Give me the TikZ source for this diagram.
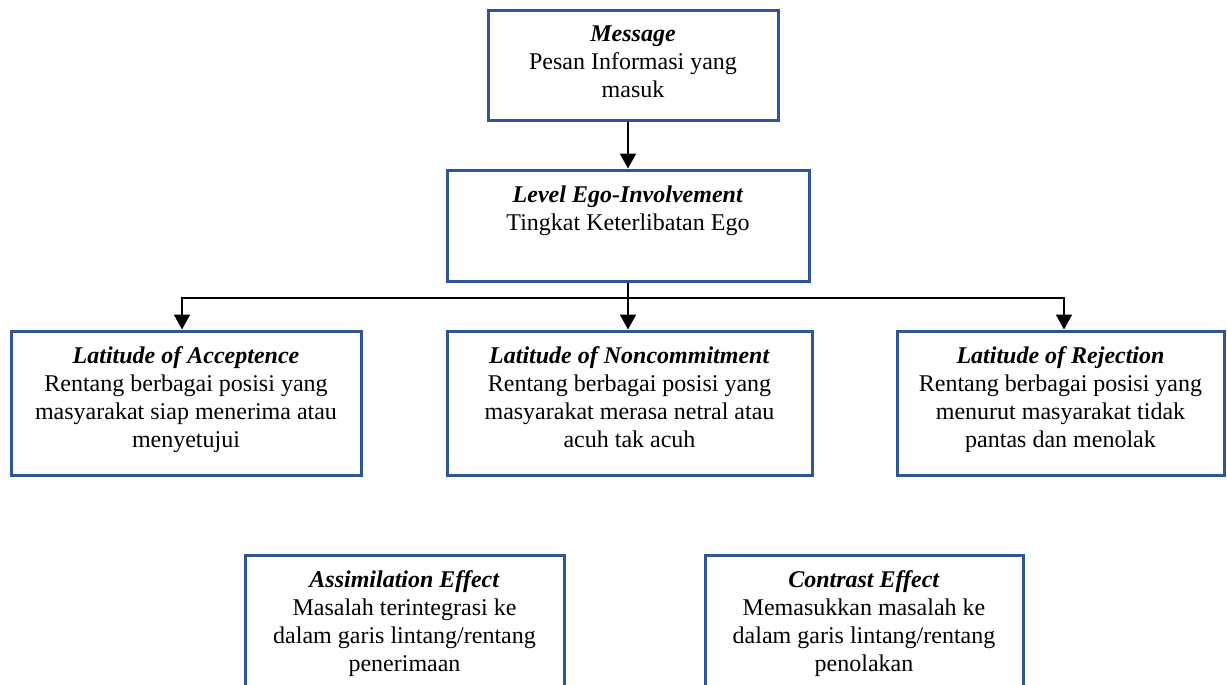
\documentclass[tikz,border=0pt]{standalone}
\usepackage{fontspec}
\setmainfont{Liberation Serif}
\usetikzlibrary{positioning,arrows.meta}
\definecolor{boxblue}{RGB}{47,85,151}
\begin{document}
\begin{tikzpicture}
        [x=0.5pt, y=-0.5pt,
        box/.style={rectangle, draw=boxblue, line width=1.5pt, fill=white},
        txt/.style={align=center, inner sep=0pt, font=\fontsize{12}{14}\selectfont},
        arr/.style={line width=1pt, -{Triangle[width=8pt,length=7.5pt]}}]
        \clip (0,0) rectangle (1227,685);
        \fill[white] (0,0) rectangle (1227,685);

        \node[box, minimum width=145pt, minimum height=55pt] (msg) at (633,65) {};
        \node[box, minimum width=181pt, minimum height=55.5pt] (lvl) at (628,225.5) {};
        \node[box, minimum width=175pt, minimum height=72pt] (lacc) at (186,403) {};
        \node[box, minimum width=182.5pt, minimum height=72pt] (lnon) at (629.5,403) {};
        \node[box, minimum width=163.5pt, minimum height=72pt] (lrej) at (1060.5,403) {};
        \node[box, minimum width=159.5pt, minimum height=75pt] (asm) at (404.5,630) {};
        \node[box, minimum width=159pt, minimum height=75pt] (con) at (864,630) {};

        \node[txt, below=8.5pt of msg.north] (msgtxt) {\textbf{\textit{Message}}\\Pesan Informasi yang\\masuk};
        \node[txt, below=8.5pt of lvl.north] (lvltxt) {\textbf{\textit{Level Ego-Involvement}}\\Tingkat Keterlibatan Ego};
        \node[txt, below=8.5pt of lacc.north] (lacctxt) {\textbf{\textit{Latitude of Acceptence}}\\Rentang berbagai posisi yang\\masyarakat siap menerima atau\\menyetujui};
        \node[txt, below=8.5pt of lnon.north] (lnontxt) {\textbf{\textit{Latitude of Noncommitment}}\\Rentang berbagai posisi yang\\masyarakat merasa netral atau\\acuh tak acuh};
        \node[txt, below=8.5pt of lrej.north] (lrejtxt) {\textbf{\textit{Latitude of Rejection}}\\Rentang berbagai posisi yang\\menurut masyarakat tidak\\pantas dan menolak};
        \node[txt, below=8.5pt of asm.north] (asmtxt) {\textbf{\textit{Assimilation Effect}}\\Masalah terintegrasi ke\\dalam garis lintang/rentang\\penerimaan};
        \node[txt, below=8.5pt of con.north] (contxt) {\textbf{\textit{Contrast Effect}}\\Memasukkan masalah ke\\dalam garis lintang/rentang\\penolakan};

        \coordinate (split) at ([yshift=-7.5pt]lvl.south);
        \draw[arr] (lvl.north |- msg.south) -- (lvl.north);
        \draw[line width=1pt] (lvl.south) -- (split);
        \draw[arr] (split) -| ([xshift=-2pt]lacc.north);
        \draw[arr] (split) -- (split |- lnon.north);
        \draw[arr] (split) -| ([xshift=1.75pt]lrej.north);
    \end{tikzpicture}
\end{document}
